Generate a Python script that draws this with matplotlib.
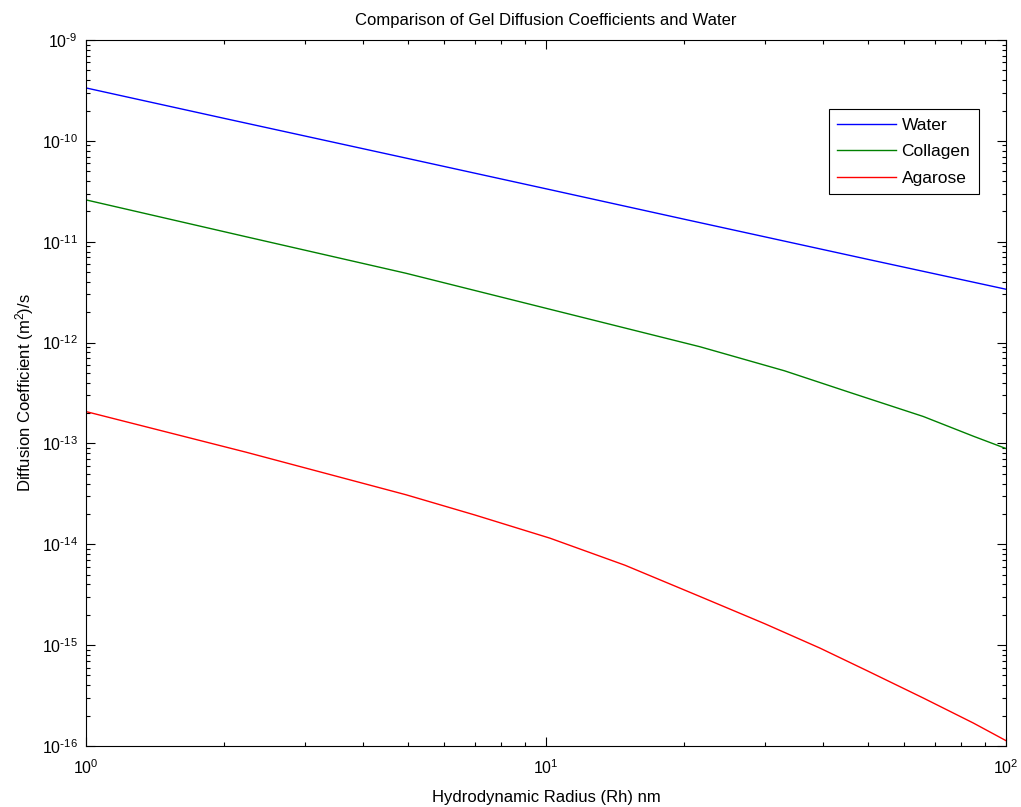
"""Gel diffusion coefficients vs water, log-log (MATLAB look)."""
import matplotlib

matplotlib.use('Agg')
import matplotlib.pyplot as plt
from matplotlib.ticker import LogLocator, FuncFormatter
import numpy as np

plt.rcParams['font.family'] = ['Liberation Sans', 'DejaVu Sans']
plt.rcParams['mathtext.default'] = 'regular'

# values (radius in nm, D in m^2/s)
r_water = [1, 2, 5, 10, 20, 50, 100]
d_water = [3.35e-10, 1.67e-10, 6.7e-11, 3.35e-11, 1.67e-11, 6.7e-12, 3.38e-12]

r_collagen = [1, 2.23, 4.96, 10.2, 21.6, 33, 45.8, 66.1, 84.9, 100]
d_collagen = [2.6e-11, 1.12e-11, 4.87e-12, 2.14e-12, 9.1e-13,
              5.25e-13, 3.2e-13, 1.85e-13, 1.18e-13, 8.9e-14]

r_agarose = [1, 2.23, 4.96, 7.01, 10.2, 14.85, 21.6, 29.9, 39.4, 49.8,
             66.1, 84.9, 100]
d_agarose = [2.07e-13, 8.18e-14, 3.1e-14, 1.95e-14, 1.15e-14, 6.2e-15,
             3.04e-15, 1.63e-15, 9.35e-16, 5.6e-16, 2.99e-16, 1.69e-16,
             1.13e-16]


def matlab_pow10(v, pos):
    # 10^k with a plain hyphen, like MATLAB
    k = int(round(np.log10(v)))
    if k < 0:
        return r'$10^{\text{-}%d}$' % -k
    return r'$10^{%d}$' % k


fig = plt.figure(figsize=(10.21, 8.07), dpi=100)
ax = fig.add_axes([0.0842, 0.0756, 0.9011, 0.8748])

ax.loglog(r_water, d_water, color='#0000ff', lw=1.0, label='Water')
ax.loglog(r_collagen, d_collagen, color='#008000', lw=1.0, label='Collagen')
ax.loglog(r_agarose, d_agarose, color='#ff0000', lw=1.0, label='Agarose')

ax.set_xlim(1, 100)
ax.set_ylim(1e-16, 1e-9)
ax.yaxis.set_major_locator(LogLocator(base=10, numticks=20))
ax.yaxis.set_minor_locator(LogLocator(base=10, subs=range(2, 10), numticks=20))
ax.xaxis.set_major_formatter(FuncFormatter(matlab_pow10))
ax.yaxis.set_major_formatter(FuncFormatter(matlab_pow10))

ax.tick_params(which='both', direction='in', top=True, right=True,
               labelsize=11.5, width=0.8)
ax.tick_params(which='major', length=6.5)
ax.tick_params(which='minor', length=3.2)
ax.tick_params(axis='x', which='major', pad=9)
ax.tick_params(axis='y', which='major', pad=6)
for sp in ax.spines.values():
    sp.set_linewidth(0.8)

ax.set_title('Comparison of Gel Diffusion Coefficients and Water',
             fontsize=12, pad=11)
ax.set_xlabel('Hydrodynamic Radius (Rh) nm', fontsize=12, labelpad=9)
ax.set_ylabel('Diffusion Coefficient (m$^2$)/s', fontsize=12, labelpad=4)

leg = ax.legend(loc='upper right', bbox_to_anchor=(0.9707, 0.9023),
                borderaxespad=0, fontsize=12.5, fancybox=False,
                edgecolor='black', framealpha=1, handlelength=3.4,
                handletextpad=0.3, labelspacing=0.65, borderpad=0.5)
leg.get_frame().set_linewidth(0.8)

fig.savefig('out.png', dpi=100)
